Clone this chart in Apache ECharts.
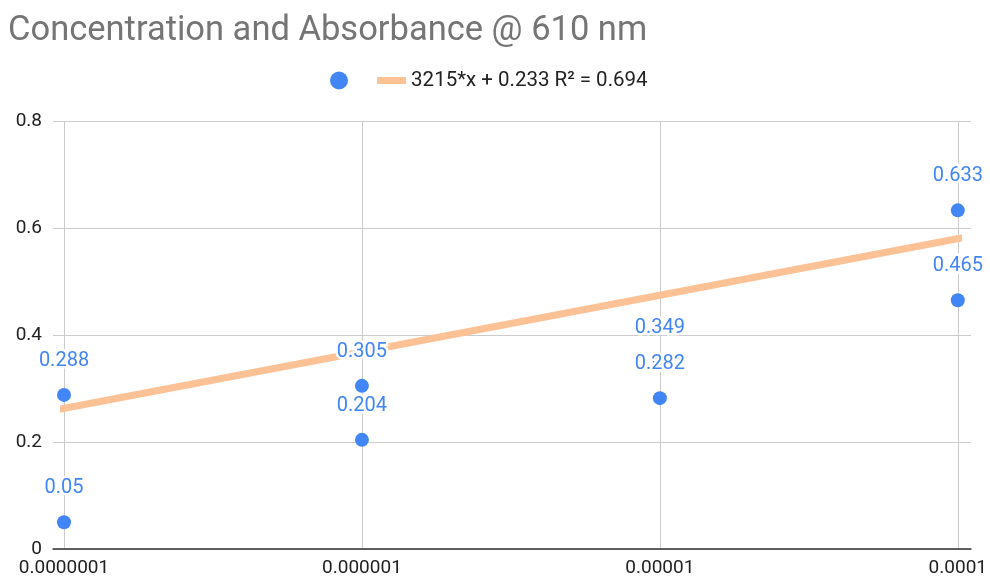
<!DOCTYPE html>
<html><head><meta charset="utf-8">
<script src="https://cdn.jsdelivr.net/npm/echarts@6/dist/echarts.min.js"></script>
<style>html,body{margin:0;padding:0;background:#fff}#c{width:990px;height:580px}</style>
</head><body><div id="c"></div>
<script>
const concentrations = [1e-7, 1e-7, 1e-6, 1e-6, 1e-5, 1e-5, 1e-4, 1e-4];
const absorbance = [0.288, 0.05, 0.305, 0.204, 0.349, 0.282, 0.633, 0.465];
const xTicks = [1e-7, 1e-4];
const yTicks = [0, 0.8, 0.2];
const trendName = '3215*x + 0.233 R\u00B2 = 0.694';
const trendX = [9.2e-8, 1.09e-4];
const trendY = [0.259, 0.584];

const chart = echarts.init(document.getElementById('c'));
const font = 'Roboto, Arial, sans-serif';
const pts = concentrations.map((x, i) => [x, absorbance[i]]);
chart.setOption({
  animation: false,
  title: { text: 'Concentration and Absorbance @ 610 nm', left: 3, top: 9,
    textStyle: { color: '#757575', fontSize: 34.5, fontWeight: 'normal', fontFamily: font } },
  legend: { top: 65, left: 325, itemGap: 10, itemWidth: 29, itemHeight: 18,
    textStyle: { color: '#222', fontSize: 20.5, fontFamily: font },
    data: [{ name: ' ', icon: 'circle' },
           { name: trendName, itemStyle: { opacity: 0 }, lineStyle: { width: 7, color: '#FDC196' } }] },
  grid: [
    { left: 53, right: 19, top: 121, bottom: 31 },
    { left: 64, right: 30, top: 121, bottom: 31 }
  ],
  xAxis: [
    { gridIndex: 0, type: 'value', min: 0, max: 1, axisLine: { lineStyle: { color: '#333', width: 1.5 } },
      axisTick: { show: false }, axisLabel: { show: false }, splitLine: { show: false } },
    { gridIndex: 1, type: 'log', logBase: 10, min: xTicks[0], max: xTicks[1],
      axisLine: { show: false }, axisTick: { show: false },
      axisLabel: { color: '#222', fontSize: 19, fontFamily: font, margin: 10,
        formatter: v => Number(v).toFixed(Math.round(-Math.log10(v))) },
      splitLine: { show: true, lineStyle: { color: '#ccc', width: 1 } } }
  ],
  yAxis: [
    { gridIndex: 0, type: 'value', min: yTicks[0], max: yTicks[1], interval: yTicks[2],
      axisLine: { show: false }, axisTick: { show: false },
      axisLabel: { color: '#222', fontSize: 19, fontFamily: font, margin: 11 },
      splitLine: { lineStyle: { color: '#ccc', width: 1 } } },
    { gridIndex: 1, type: 'value', min: yTicks[0], max: yTicks[1], show: false, splitLine: { show: false } }
  ],
  series: [
    { name: trendName, type: 'line', xAxisIndex: 1, yAxisIndex: 1, clip: false, symbol: 'none',
      lineStyle: { color: '#FDC196', width: 7 }, itemStyle: { color: '#FDC196' }, z: 2,
      data: trendX.map((x, i) => [x, trendY[i]]) },
    { name: ' ', type: 'scatter', xAxisIndex: 1, yAxisIndex: 1, symbolSize: 14, z: 3,
      itemStyle: { color: '#4285F4', opacity: 1 }, label: { show: false },
      data: pts },
    { name: 'labels', type: 'scatter', xAxisIndex: 1, yAxisIndex: 1, symbolSize: 14, z: 10, zlevel: 1,
      itemStyle: { color: 'rgba(0,0,0,0)', opacity: 1 }, silent: true,
      label: { show: true, position: 'top', distance: 17, color: '#4285F4', fontSize: 20, fontFamily: font,
        textBorderColor: '#fff', textBorderWidth: 5 },
      data: pts }
  ]
});
</script></body></html>
